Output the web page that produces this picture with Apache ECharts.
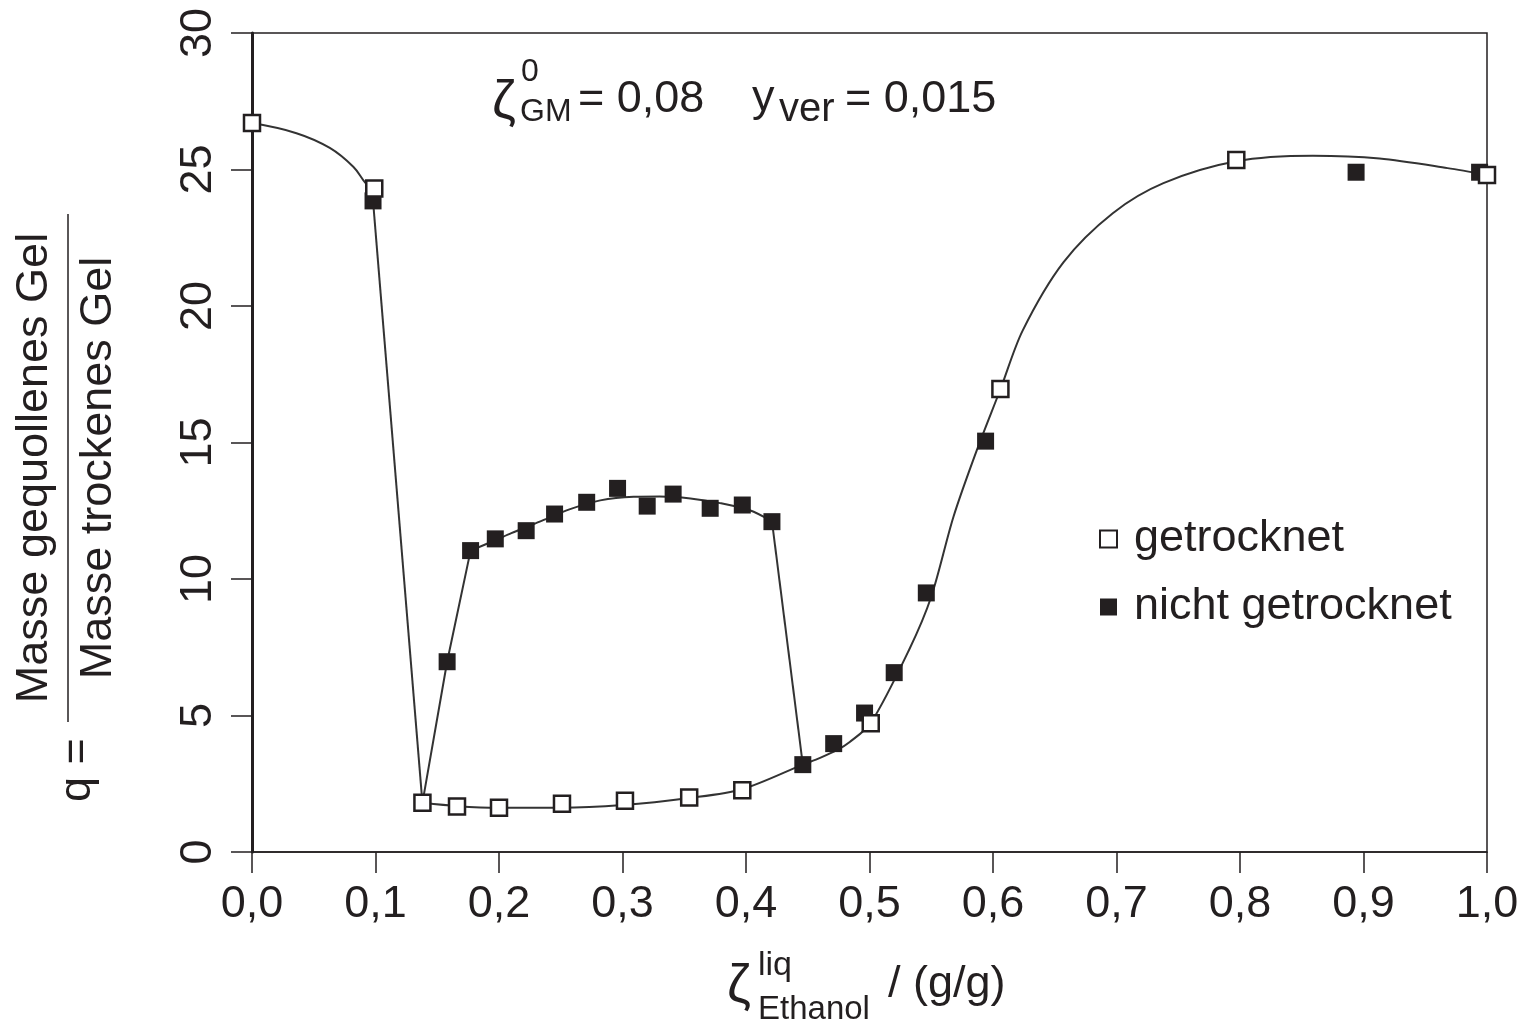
<!DOCTYPE html>
<html><head><meta charset="utf-8">
<script src="https://cdn.jsdelivr.net/npm/echarts@6/dist/echarts.min.js"></script>
<style>html,body{margin:0;padding:0;background:#fff}#c{width:1529px;height:1024px}</style>
</head><body><div id="c"></div>
<script>
// ---- data ----
const xTickLabels = ['0,0','0,1','0,2','0,3','0,4','0,5','0,6','0,7','0,8','0,9','1,0'];
const yTickLabels = ['0','5','10','15','20','25','30'];

// getrocknet (open squares)
const getrocknetX = [0.0, 0.099, 0.138, 0.166, 0.200, 0.251, 0.302, 0.354, 0.397, 0.501, 0.606, 0.797, 1.0];
const getrocknetY = [26.7, 24.3, 1.8, 1.67, 1.62, 1.77, 1.88, 2.0, 2.26, 4.72, 16.96, 25.35, 24.8];

// nicht getrocknet (filled squares)
const nichtX = [0.098, 0.158, 0.177, 0.197, 0.222, 0.245, 0.271, 0.296, 0.320, 0.341, 0.371, 0.397, 0.421, 0.446, 0.471, 0.496, 0.520, 0.546, 0.594, 0.894, 0.994];
const nichtY = [23.85, 6.97, 11.04, 11.47, 11.77, 12.38, 12.81, 13.32, 12.67, 13.11, 12.59, 12.71, 12.1, 3.2, 3.97, 5.09, 6.57, 9.49, 15.05, 24.9, 24.9];

// drawn guide curves
const curveTopX = [0.0, 0.036, 0.063, 0.082, 0.092, 0.099];
const curveTopY = [26.7, 26.33, 25.79, 25.1, 24.5, 24.2];
const dropLeftX = [0.098, 0.138];
const dropLeftY = [23.85, 1.8];
const riseX = [0.138, 0.158, 0.177];
const riseY = [1.8, 6.97, 11.04];
const arcX = [0.177, 0.197, 0.210, 0.233, 0.257, 0.282, 0.309, 0.330, 0.355, 0.379, 0.403, 0.421];
const arcY = [11.04, 11.42, 11.68, 12.1, 12.55, 12.88, 13.01, 13.02, 12.95, 12.78, 12.52, 12.12];
const dropRightX = [0.421, 0.446];
const dropRightY = [12.12, 3.2];
const curveMainX = [0.138, 0.166, 0.200, 0.250, 0.300, 0.354, 0.397, 0.446, 0.460, 0.474, 0.484, 0.501, 0.532, 0.550, 0.568, 0.587, 0.606, 0.624, 0.657, 0.697, 0.738, 0.797, 0.859, 0.913, 0.968, 1.0];
const curveMainY = [1.8, 1.68, 1.62, 1.62, 1.72, 1.98, 2.3, 3.2, 3.45, 3.74, 4.03, 4.72, 7.4, 9.35, 12.28, 14.73, 16.95, 19.1, 21.6, 23.4, 24.5, 25.3, 25.5, 25.4, 25.05, 24.8];

// ---- helpers ----
const pairs = (xs, ys) => xs.map((x, i) => [x, ys[i]]);
const FONT = '"Liberation Sans", Arial, Helvetica, sans-serif';
const INK = '#231f20';
const LINE = '#333333';

function lineSeries(xs, ys, smooth) {
  return {
    type: 'line', data: pairs(xs, ys), symbol: 'none', showSymbol: false,
    smooth: smooth, silent: true, z: 2,
    lineStyle: { color: LINE, width: 2 }
  };
}
function txt(x, y, text, size, opts) {
  return Object.assign({
    type: 'text', x: x, y: y, silent: true,
    style: Object.assign({ text: text, fill: INK, font: size + 'px ' + FONT, align: 'left', verticalAlign: 'middle' }, opts && opts.style)
  }, opts && opts.el);
}

const chart = echarts.init(document.getElementById('c'), null, { renderer: 'canvas' });
chart.setOption({
  backgroundColor: '#fff',
  animation: false,
  grid: { left: 252, right: 42, top: 33, bottom: 172, show: true, borderColor: INK, borderWidth: 1.5, backgroundColor: 'transparent', containLabel: false, outerBoundsMode: 'none' },
  xAxis: {
    type: 'value', min: 0, max: 1, interval: 0.1,
    axisLine: { show: true, onZero: false, lineStyle: { color: INK, width: 1.5 } },
    axisTick: { show: true, inside: false, length: 21, lineStyle: { color: INK, width: 1.5 } },
    axisLabel: { color: INK, fontFamily: FONT, fontSize: 45, margin: 30, hideOverlap: false,
      formatter: (v) => xTickLabels[Math.round(v * 10)] },
    splitLine: { show: false }
  },
  yAxis: {
    type: 'value', min: 0, max: 30, interval: 5,
    axisLine: { show: true, onZero: false, lineStyle: { color: INK, width: 3 } },
    axisTick: { show: true, inside: false, length: 21, lineStyle: { color: INK, width: 1.5 } },
    axisLabel: { color: INK, fontFamily: FONT, fontSize: 45, margin: 31, rotate: 90, hideOverlap: false,
      formatter: (v) => yTickLabels[Math.round(v / 5)] },
    splitLine: { show: false }
  },
  legend: {
    orient: 'vertical', left: 1094, top: 508, itemWidth: 17, itemHeight: 17, itemGap: 16,
    icon: 'rect',
    textStyle: { color: INK, fontFamily: FONT, fontSize: 45, lineHeight: 52, padding: [0, 0, 0, 12] },
    data: ['getrocknet', 'nicht getrocknet']
  },
  series: [
    lineSeries(curveTopX, curveTopY, 0.4),
    lineSeries(dropLeftX, dropLeftY, false),
    lineSeries(riseX, riseY, false),
    lineSeries(arcX, arcY, 0.3),
    lineSeries(dropRightX, dropRightY, false),
    lineSeries(curveMainX, curveMainY, 0.3),
    { name: 'nicht getrocknet', type: 'scatter', data: pairs(nichtX, nichtY), symbol: 'rect', symbolSize: 17, z: 3,
      itemStyle: { color: INK, borderColor: INK, borderWidth: 0, opacity: 1 } },
    { name: 'getrocknet', type: 'scatter', data: pairs(getrocknetX, getrocknetY), symbol: 'rect', symbolSize: 16, z: 4,
      itemStyle: { color: '#ffffff', borderColor: INK, borderWidth: 2.5, opacity: 1 } }
  ],
  graphic: [
    // annotation
    txt(492, 103, 'ζ', 54),
    txt(521, 72, '0', 32),
    txt(520, 112, 'GM', 32),
    txt(578, 100, '= 0,08', 45),
    txt(752, 99, 'y', 45),
    txt(779, 110, 'ver', 40),
    txt(845, 100, '= 0,015', 45),
    // x axis name
    txt(727, 987, 'ζ', 54),
    txt(758, 966, 'liq', 34),
    txt(758, 1010, 'Ethanol', 33),
    txt(888, 985, '/ (g/g)', 45),
    // y axis name (rotated)
    txt(35, 468, 'Masse gequollenes Gel', 45, { style: { align: 'center' }, el: { rotation: Math.PI / 2 } }),
    txt(99, 468, 'Masse trockenes Gel', 45, { style: { align: 'center' }, el: { rotation: Math.PI / 2 } }),
    txt(78, 770, 'q =', 45, { style: { align: 'center' }, el: { rotation: Math.PI / 2 } }),
    { type: 'line', silent: true, shape: { x1: 68, y1: 214, x2: 68, y2: 722 }, style: { stroke: INK, lineWidth: 1.5 } }
  ]
});
</script>
</body></html>
